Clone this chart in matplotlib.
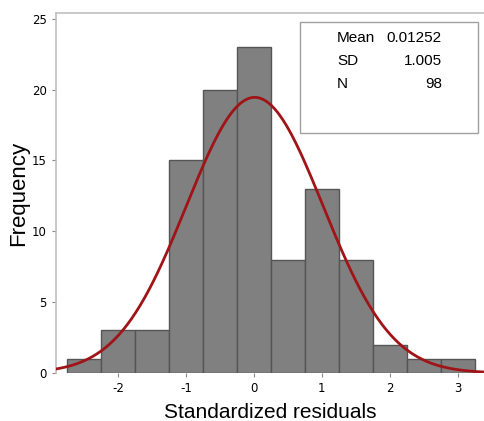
import numpy as np
import matplotlib
matplotlib.use('Agg')
import matplotlib.pyplot as plt

# histogram of standardized residuals
bin_edges = [-2.75, -2.25, -1.75, -1.25, -0.75, -0.25, 0.25, 0.75, 1.25, 1.75, 2.25, 2.75, 3.25]
counts = [1, 3, 3, 15, 20, 23, 8, 13, 8, 2, 1, 1]
mean_val = 0.01252
sd_val = 1.005
n_obs = 98
xticks = [-2, -1, 0, 1, 2, 3]
yticks = [0, 5, 10, 15, 20, 25]

plt.rcParams['font.family'] = ['Liberation Sans', 'DejaVu Sans']
plt.rcParams['axes.unicode_minus'] = False

fig = plt.figure(figsize=(4.85, 4.21), dpi=100)
ax = fig.add_axes([0.1155, 0.114, 0.8845, 0.855])

lefts = bin_edges[:-1]
widths = np.diff(bin_edges)
ax.bar(lefts, counts, width=widths, align='edge', color='#808080',
       edgecolor='#555555', linewidth=1.0, zorder=2)

# fitted normal curve scaled to counts
binw = widths[0]
xs = np.linspace(-2.95, 3.45, 300)
ys = n_obs * binw / (sd_val * np.sqrt(2 * np.pi)) * np.exp(-0.5 * ((xs - mean_val) / sd_val) ** 2)
ax.plot(xs, ys, color='#a01418', linewidth=2, zorder=3)

ax.set_xlim(-2.91, 3.4)
ax.set_ylim(0, 25.4)
ax.set_xticks(xticks)
ax.set_yticks(yticks)
ax.tick_params(axis='both', colors='#888888', labelcolor='black', length=3)
for lab in ax.get_xticklabels() + ax.get_yticklabels():
    lab.set_family('DejaVu Sans')
    lab.set_fontsize(8.5)

for s in ['left', 'top']:
    ax.spines[s].set_color('#c0c0c0')
    ax.spines[s].set_linewidth(1.2)
ax.spines['right'].set_visible(False)
ax.spines['bottom'].set_visible(False)

ax.set_xlabel('Standardized residuals', fontsize=15, labelpad=6)
ax.set_ylabel('Frequency', fontsize=16, labelpad=2)

# stats box
fig.patches.append(plt.Rectangle((300 / 485, 1 - 133 / 421), 178 / 485, 111 / 421,
                                 transform=fig.transFigure, fill=False,
                                 edgecolor='#a0a0a0', linewidth=1))
rows = [('Mean', '0.01252'), ('SD', '1.005'), ('N', str(n_obs))]
for i, (k, v) in enumerate(rows):
    yy = 1 - (38 + 23 * i) / 421
    fig.text(337 / 485, yy, k, fontsize=11, va='center', ha='left')
    fig.text(442 / 485, yy, v, fontsize=11, va='center', ha='right')

fig.savefig('out.png', dpi=100)
